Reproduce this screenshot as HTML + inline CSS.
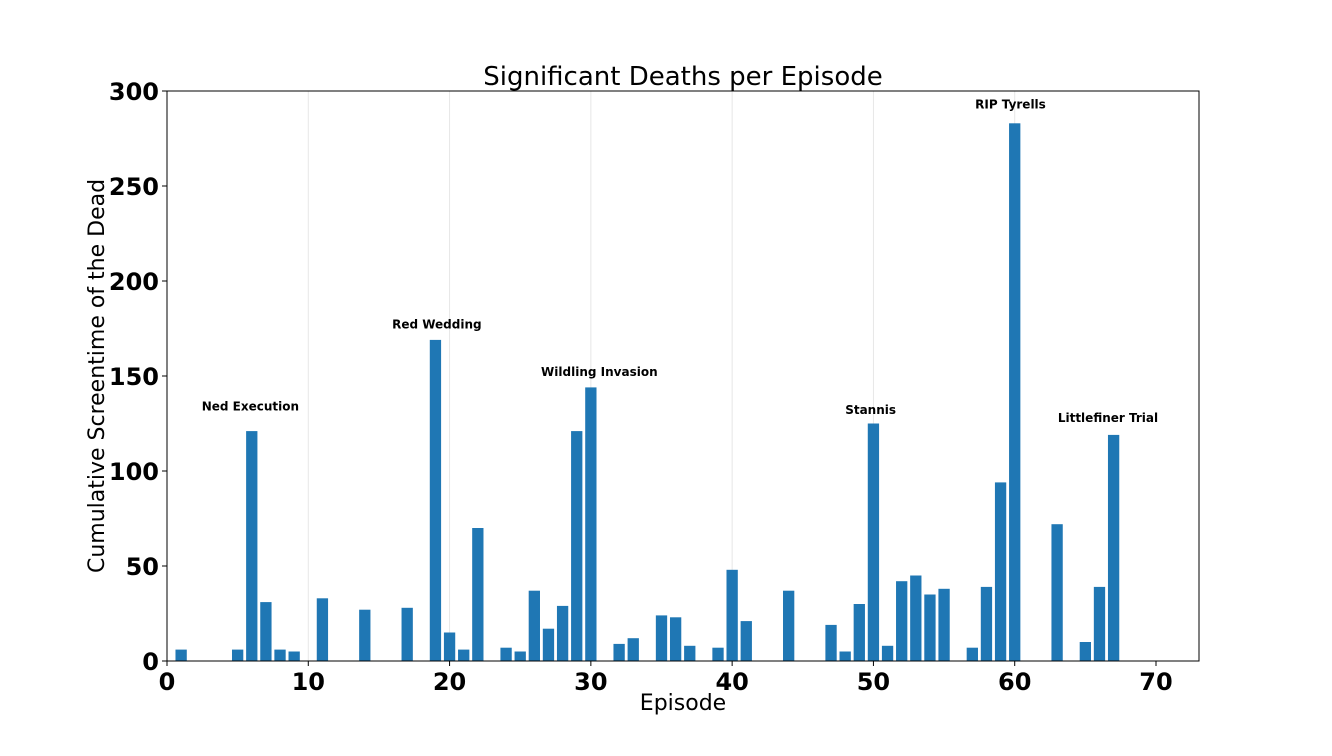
<!DOCTYPE html>
<html><head><meta charset="utf-8"><style>
body{margin:0;background:#fff;}
svg{display:block;font-family:"DejaVu Sans","Liberation Sans",sans-serif;}
</style></head><body>
<svg id="chart" width="1332" height="756">
<text x="683" y="85" text-anchor="middle" font-size="26">Significant Deaths per Episode</text>
<g id="grid"></g><g id="bars"></g><g id="axes"></g><g id="annots"></g>
<text x="683" y="710" text-anchor="middle" font-size="22">Episode</text>
<text transform="translate(104,376) rotate(-90)" text-anchor="middle" font-size="22">Cumulative Screentime of the Dead</text>
</svg>
<script>
const episodes=[1,5,6,7,8,9,11,14,17,19,20,21,22,24,25,26,27,28,29,30,32,33,35,36,37,39,40,41,44,47,48,49,50,51,52,53,54,55,57,58,59,60,63,65,66,67];
const values=[6,6,121,31,6,5,33,27,28,169,15,6,70,7,5,37,17,29,121,144,9,12,24,23,8,7,48,21,37,19,5,30,125,8,42,45,35,38,7,39,94,283,72,10,39,119];
const xTicks=[0,10,20,30,40,50,60,70];
const yTicks=[0,50,100,150,200,250,300];
const annotLabels=["Ned Execution","Red Wedding","Wildling Invasion","Stannis","RIP Tyrells","Littlefiner Trial"];
const annotX=[5.9,19.1,30.6,49.8,59.7,66.6];
const annotY=[134,177,152,132,293,128];
const L=167,R=1199,T=91,B=661;
const xs=v=>L+v*(1156-167)/70;
const ys=v=>B-v*(B-T)/300;
const NS="http://www.w3.org/2000/svg";
function mk(tag,attrs,parent){const e=document.createElementNS(NS,tag);for(const k in attrs)e.setAttribute(k,attrs[k]);parent.appendChild(e);return e;}
const grid=document.getElementById('grid'),bars=document.getElementById('bars'),axes=document.getElementById('axes'),ann=document.getElementById('annots');
xTicks.forEach(t=>{if(t>0&&t<70){const g=mk('line',{x1:xs(t),x2:xs(t),y1:T,y2:B,stroke:'#e6e6e6','stroke-width':1},grid);

}});
episodes.forEach((e,i)=>{const w=0.8*(1156-167)/70;const r=mk('rect',{x:xs(e)-w/2,y:ys(values[i]),width:w,height:B-ys(values[i]),fill:'#1f77b4'},bars);

});
const frame=mk('rect',{x:L,y:T,width:R-L,height:B-T,fill:'none',stroke:'#000','stroke-width':1},axes);


xTicks.forEach(t=>{mk('line',{x1:xs(t),x2:xs(t),y1:B,y2:B+5,stroke:'#000'},axes);
const tx=mk('text',{x:xs(t),y:B+29,'text-anchor':'middle','font-size':24,'font-weight':'bold'},axes);tx.textContent=t;

});
yTicks.forEach(t=>{mk('line',{x1:L-5,x2:L,y1:ys(t),y2:ys(t),stroke:'#000'},axes);
const tx=mk('text',{x:L-8,y:ys(t)+9,'text-anchor':'end','font-size':24,'font-weight':'bold'},axes);tx.textContent=t;

});
annotLabels.forEach((l,i)=>{const tx=mk('text',{x:xs(annotX[i]),y:ys(annotY[i])+4,'text-anchor':'middle','font-size':12,'font-weight':'bold'},ann);tx.textContent=l;

});
</script>
</body></html>
